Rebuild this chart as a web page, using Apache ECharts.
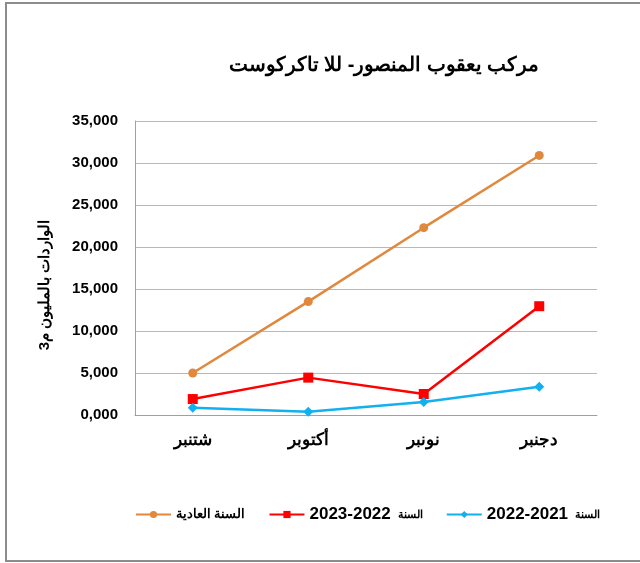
<!DOCTYPE html>
<html>
<head>
<meta charset="utf-8">
<script src="https://cdn.jsdelivr.net/npm/echarts@6/dist/echarts.min.js"></script>
<style>
  html, body { margin: 0; padding: 0; background: #fff; }
  #main { width: 640px; height: 563px; }
</style>
</head>
<body>
<div id="main"></div>
<script>
var months = ['شتنبر', 'أكتوبر', 'نونبر', 'دجنبر'];
var normalYear = [5000, 13500, 22300, 30900];
var year2223 = [1900, 4450, 2500, 12950];
var year2122 = [870, 400, 1550, 3370];
var seriesNames = ['السنة العادية', 'السنة 2022-2023', 'السنة 2021-2022'];
var titleText = 'مركب يعقوب المنصور- للا تاكركوست';
var yName = 'الواردات بالمليون م3';

var FONT = 'Arial, sans-serif';

var myChart = echarts.init(document.getElementById('main'));

function fmt(v) {
    var k = Math.floor(v / 1000);
    var r = String(v % 1000);
    while (r.length < 3) r = '0' + r;
    return k + ',' + r;
}

// excel shows the years big and the arabic word small, so split the label
function legendFmt(name) {
    var m = name.match(/^(\S+) (\d{4})-(\d{4})$/);
    if (!m) return '{a|' + name + '}';
    return '{n|' + m[3] + '-' + m[2] + '}{a2|' + m[1] + '}';
}

var option = {
    backgroundColor: '#fff',
    animation: false,
    title: {
        text: titleText,
        left: 379,
        top: 50,
        textAlign: 'center',
        textStyle: {
            fontFamily: FONT,
            fontSize: 20,
            fontWeight: 'bold',
            color: '#000'
        }
    },
    graphic: [{
        type: 'rect',
        shape: { x: 6, y: 3, width: 700, height: 558 },
        style: { fill: 'none', stroke: '#8c8c8c', lineWidth: 2 },
        silent: true
    }, {
        type: 'text',
        x: 45,
        y: 285,
        rotation: Math.PI / 2,
        style: {
            text: yName,
            fill: '#000',
            font: 'bold 15px ' + FONT,
            align: 'center',
            verticalAlign: 'middle'
        },
        silent: true
    }],
    grid: {
        left: 135,
        right: 43,
        top: 121,
        bottom: 148
    },
    legend: {
        data: seriesNames,
        left: 135,
        top: 506,
        padding: 0,
        itemWidth: 35,
        itemHeight: 9,
        itemGap: 23,
        formatter: legendFmt,
        textStyle: {
            fontFamily: FONT,
            fontWeight: 'bold',
            color: '#000',
            rich: {
                a: { fontFamily: FONT, fontSize: 12.5, fontWeight: 'bold', color: '#000' },
                a2: { fontFamily: FONT, fontSize: 11, fontWeight: 'bold', color: '#000', padding: [0, 0, 0, 7] },
                n: { fontFamily: FONT, fontSize: 17, fontWeight: 'bold', color: '#000' }
            }
        }
    },
    xAxis: {
        type: 'category',
        data: months,
        boundaryGap: true,
        axisLine: { lineStyle: { color: '#a0a0a0', width: 1 } },
        axisTick: { show: false },
        axisLabel: {
            margin: 17,
            fontFamily: FONT,
            fontSize: 17,
            fontWeight: 'bold',
            color: '#000'
        }
    },
    yAxis: {
        type: 'value',
        min: 0,
        max: 35000,
        interval: 5000,
        axisLine: { show: true, lineStyle: { color: '#a0a0a0', width: 1 } },
        axisTick: { show: false },
        splitLine: { lineStyle: { color: '#b8b8b8', width: 1 } },
        axisLabel: {
            margin: 17,
            formatter: fmt,
            fontFamily: FONT,
            fontSize: 15,
            fontWeight: 'bold',
            color: '#000'
        }
    },
    series: [
        {
            name: seriesNames[0],
            type: 'line',
            data: normalYear,
            symbol: 'circle',
            symbolSize: 9,
            lineStyle: { color: '#E0883D', width: 2.5 },
            itemStyle: { color: '#E0883D' }
        },
        {
            name: seriesNames[1],
            type: 'line',
            data: year2223,
            symbol: 'rect',
            symbolSize: 10,
            lineStyle: { color: '#FF0000', width: 2.5 },
            itemStyle: { color: '#FF0000' }
        },
        {
            name: seriesNames[2],
            type: 'line',
            data: year2122,
            symbol: 'diamond',
            symbolSize: 10,
            lineStyle: { color: '#12B0EE', width: 2.5 },
            itemStyle: { color: '#12B0EE' }
        }
    ]
};

myChart.setOption(option);
</script>
</body>
</html>
